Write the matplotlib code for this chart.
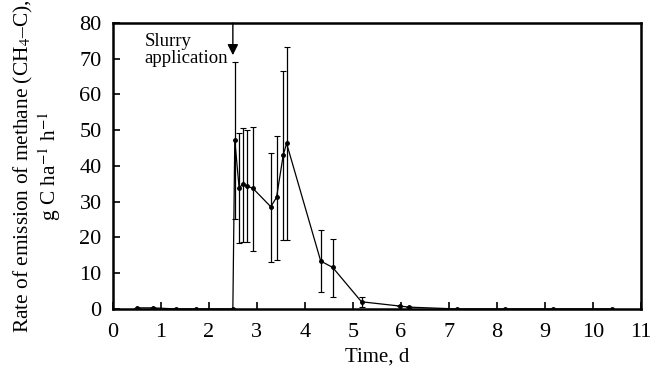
import matplotlib
matplotlib.use('Agg')
import matplotlib.pyplot as plt

plt.rcParams['font.family'] = ['Liberation Serif', 'DejaVu Serif']
plt.rcParams['mathtext.fontset'] = 'stix'

# time (days) and methane emission rate (g C / ha / h)
days = [0.51, 0.84, 1.31, 1.73, 2.50, 2.54, 2.63, 2.71, 2.80, 2.92, 3.29, 3.41,
        3.55, 3.62, 4.33, 4.58, 5.18, 5.98, 6.17, 7.16, 8.17, 9.16, 10.39]
rate = [0.3, 0.3, 0.0, 0.0, 0.0, 47.3, 33.9, 34.9, 34.4, 33.7, 28.6, 31.2,
        43.1, 46.3, 13.4, 11.6, 2.0, 0.8, 0.5, 0.0, 0.0, 0.0, 0.0]
err_hi = [0, 0, 0, 0, 0, 21.8, 15.2, 15.6, 15.7, 17.1, 15.1, 17.2,
          23.6, 27.1, 8.7, 7.9, 1.4, 0, 0, 0, 0, 0, 0]
err_lo = [0, 0, 0, 0, 0, 22.0, 15.5, 16.3, 15.8, 17.4, 15.5, 17.5,
          23.8, 27.0, 8.8, 8.2, 1.4, 0, 0, 0, 0, 0, 0]

fig = plt.figure(figsize=(6.6, 3.74), dpi=100)
ax = fig.add_axes([0.171, 0.174, 0.8, 0.7645])

ax.errorbar(days, rate, yerr=[err_lo, err_hi], color='black', lw=0.9,
            marker='o', ms=2.5, elinewidth=0.9, capsize=2, capthick=0.8)

ax.set_xlim(0, 11)
ax.set_ylim(0, 80)
ax.set_xticks(range(0, 12))
ax.set_yticks(range(0, 81, 10))
ax.tick_params(direction='in', length=5, width=1.2, labelsize=16)
ax.tick_params(axis='x', pad=10)
ax.tick_params(axis='y', pad=8)
for s in ax.spines.values():
    s.set_linewidth(1.8)

# slurry application marker
ax.annotate('', xy=(2.5, 71), xytext=(2.5, 80),
            arrowprops=dict(arrowstyle='-|>', color='black', lw=1,
                            mutation_scale=16, shrinkA=0, shrinkB=0))
ax.text(0.66, 72.4, 'Slurry\napplication', fontsize=13.5, ha='left', va='center',
        linespacing=1.0)

ax.set_xlabel('Time, d', fontsize=15)
ax.set_ylabel('Rate of emission of methane (CH$_4$\u2013C),\ng C ha$^{-1}$ h$^{-1}$',
              fontsize=15.4, linespacing=1.1)
ax.yaxis.set_label_coords(-0.094, 0.5)

fig.savefig('out.png', dpi=100)
